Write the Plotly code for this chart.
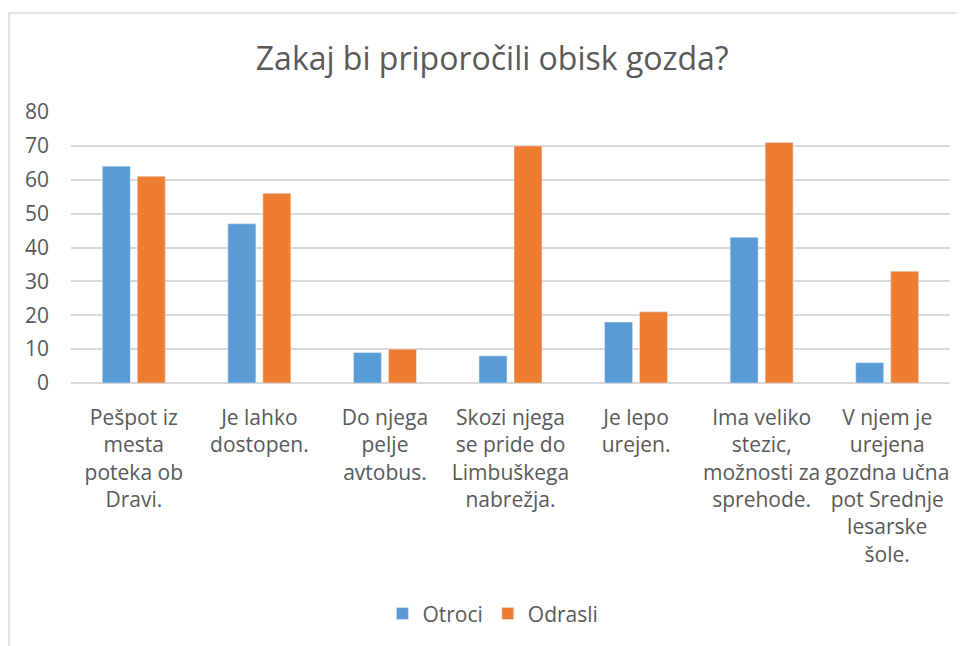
import plotly.graph_objects as go

# Categories (x axis labels, wrapped like in the original)
categories = [
    "Pešpot iz<br>mesta<br>poteka ob<br>Dravi.",
    "Je lahko<br>dostopen.",
    "Do njega<br>pelje<br>avtobus.",
    "Skozi njega<br>se pride do<br>Limbuškega<br>nabrežja.",
    "Je lepo<br>urejen.",
    "Ima veliko<br>stezic,<br>možnosti za<br>sprehode.",
    "V njem je<br>urejena<br>gozdna učna<br>pot Srednje<br>lesarske<br>šole.",
]
otroci = [64, 47, 9, 8, 18, 43, 6]
odrasli = [61, 56, 10, 70, 21, 71, 33]
y_ticks = [0, 10, 20, 30, 40, 50, 60, 70, 80]

font_family = "'Open Sans', sans-serif"
text_color = "#595959"

fig = go.Figure()
fig.add_trace(go.Bar(x=categories, y=otroci, name="Otroci", marker_color="#5B9BD5"))
fig.add_trace(go.Bar(x=categories, y=odrasli, name="Odrasli", marker_color="#ED7D31"))

# page has an 8px body margin, so the figure is a bit smaller than the window
fig.update_layout(
    width=957,
    height=638,
    paper_bgcolor="white",
    plot_bgcolor="white",
    font=dict(family=font_family, color=text_color, size=21),
    title=dict(
        text="Zakaj bi priporočili obisk gozda?",
        font=dict(size=32, color=text_color),
        x=0.506, xanchor="center", y=0.92, yanchor="middle",
    ),
    margin=dict(l=63, r=15, t=104, b=263),
    barmode="group",
    bargap=0.443,
    bargroupgap=0.2,
    legend=dict(
        orientation="h", x=0.48, xanchor="center", y=-0.852, yanchor="middle",
        font=dict(size=21), itemwidth=30, traceorder="normal",
    ),
    shapes=[dict(
        type="rect", xref="paper", yref="paper",
        x0=-0.0705, x1=1.03, y0=-1.2, y1=1.365,
        line=dict(color="#d9d9d9", width=1.5), layer="below",
    )],
)
fig.update_yaxes(
    range=[0, 80], tickvals=y_ticks, showgrid=True, gridcolor="#d9d9d9", gridwidth=1.5,
    zeroline=True, zerolinecolor="#d9d9d9", zerolinewidth=1.5,
    ticks="", ticklabelstandoff=21, showline=False,
)
fig.update_xaxes(
    showgrid=False, ticks="", showline=False, tickangle=0, ticklabelstandoff=20,
)

fig.write_html("out.html")
